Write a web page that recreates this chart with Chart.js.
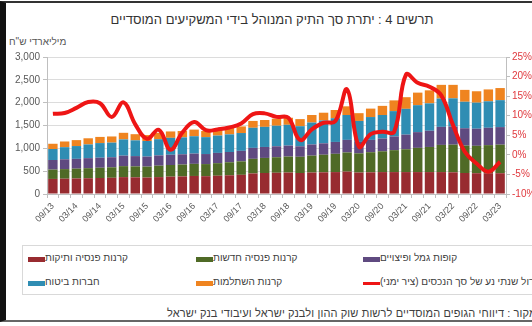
<!DOCTYPE html>
<html lang="he">
<head>
<meta charset="utf-8">
<script src="https://cdn.jsdelivr.net/npm/chart.js@4"></script>
<style>
  html, body { margin: 0; padding: 0; background: #fff; }
  body { width: 532px; height: 326px; position: relative; overflow: hidden;
    font-family: "Liberation Sans", Arial, sans-serif; color: #404040; }
  #frame { position: absolute; left: 0; top: 1px; width: 540px; height: 321px;
    border-left: 6px solid #111; border-top: 2px solid #333; border-bottom: 2px solid #666; box-sizing: border-box; }
  #title { position: absolute; top: 12px; left: 0; width: 544px; text-align: center;
    font-size: 13px; color: #333; direction: rtl; }
  #unit { position: absolute; top: 36px; left: 9px; font-size: 10px; color: #555;
    direction: ltr; white-space: nowrap; }
  #chart { position: absolute; left: 0; top: 0; }
  #legend { position: absolute; left: 22px; top: 245px; width: 530px; height: 50px;
    border: 1px solid #d9d9d9; box-sizing: border-box; }
  .item { position: absolute; font-size: 10px; white-space: nowrap; direction: rtl; color: #404040; }
  .sw { position: absolute; width: 17px; height: 5px; }
  #source { position: absolute; top: 307px; left: 167px; font-size: 11px; letter-spacing: 0.12px;
    white-space: nowrap; direction: rtl; color: #404040; }
</style>
</head>
<body>
<div id="frame"></div>
<div id="title">תרשים 4 : יתרת סך התיק המנוהל בידי המשקיעים המוסדיים</div>
<div id="unit">מיליארדי ש"ח</div>
<canvas id="chart" width="532" height="240"></canvas>
<div id="legend"></div>
<div id="source">מקור : דיווחי הגופים המוסדיים לרשות שוק ההון ולבנק ישראל ועיבודי בנק ישראל</div>
<script>
// ---------- data ----------
const quarters = [
  "09/13", "12/13", "03/14", "06/14", "09/14", "12/14", "03/15", "06/15", "09/15", "12/15",
  "03/16", "06/16", "09/16", "12/16", "03/17", "06/17", "09/17", "12/17", "03/18", "06/18",
  "09/18", "12/18", "03/19", "06/19", "09/19", "12/19", "03/20", "06/20", "09/20", "12/20",
  "03/21", "06/21", "09/21", "12/21", "03/22", "06/22", "09/22", "12/22", "03/23",
];
// billions NIS
const oldPension = [330, 335, 340, 345, 350, 355, 370, 365, 360, 370, 380, 385, 395, 390, 400, 410, 420, 450, 460, 465,
  470, 460, 470, 475, 480, 490, 470, 475, 480, 480, 480, 480, 480, 480, 475, 460, 455, 455, 455];
const newPension = [205, 210, 215, 220, 225, 230, 240, 240, 240, 250, 255, 260, 265, 265, 275, 285, 295, 320, 330, 340,
  350, 355, 370, 385, 400, 420, 420, 440, 455, 480, 500, 530, 550, 595, 605, 600, 600, 615, 625];
const provident = [210, 215, 215, 220, 220, 220, 230, 225, 220, 225, 225, 225, 225, 220, 225, 225, 230, 240, 240, 240,
  240, 230, 245, 250, 260, 275, 250, 270, 280, 300, 320, 345, 355, 395, 400, 380, 375, 380, 385];
const insurance = [240, 265, 280, 300, 320, 320, 355, 345, 340, 355, 370, 370, 380, 370, 380, 385, 390, 440, 440, 450,
  455, 440, 480, 500, 520, 545, 460, 500, 515, 555, 565, 590, 600, 620, 615, 580, 570, 580, 590];
const studyFunds = [115, 125, 130, 135, 135, 135, 145, 135, 130, 140, 140, 140, 145, 135, 140, 145, 145, 150, 150, 155,
  155, 155, 165, 170, 180, 190, 170, 185, 200, 235, 255, 275, 285, 300, 295, 260, 250, 260, 265];
// % (right axis)
const annualChange = [10.5, 10.7, 12.0, 13.5, 13.2, 9.7, 13.4, 7.8, 4.1, 6.4, 1.3, 5.7, 8.4, 6.3, 6.5, 7.0, 8.0, 10.4, 10.6, 9.7,
  9.5, 3.8, 6.5, 8.2, 8.6, 16.7, 2.1, 5.3, 5.9, 5.9, 20.5, 18.4, 17.4, 15.2, 7.6, 0.8, -2.2, -4.3, -1.8];

const leftTicks = [0, 500, 1000, 1500, 2000, 2500, 3000];
const rightTicks = [-10, -5, 0, 5, 10, 15, 20, 25];

const SERIES = [
  { label: "קרנות פנסיה ותיקות", data: oldPension, color: "#982b30" },
  { label: "קרנות פנסיה חדשות", data: newPension, color: "#4f6a26" },
  { label: "קופות גמל ופיצויים", data: provident, color: "#5f4a80" },
  { label: "חברות ביטוח", data: insurance, color: "#2f8db3" },
  { label: "קרנות השתלמות", data: studyFunds, color: "#ef8420" },
];
const LINE = { label: "שיעור גידול שנתי נע של סך הנכסים (ציר ימני)", data: annualChange, color: "#ee1515" };

const GRID = "#dcdcdc";
const AXIS = "#bfbfbf";
const TXT = "#595959";
const RED_TXT = "#e0393e";

// ---------- chart ----------
const datasets = SERIES.map((s) => ({
  type: "bar", label: s.label, data: s.data, backgroundColor: s.color,
  yAxisID: "y", order: 1, barPercentage: 0.8, categoryPercentage: 1,
}));
datasets.push({
  type: "line", label: LINE.label, data: LINE.data, borderColor: LINE.color,
  backgroundColor: LINE.color, borderWidth: 4, pointRadius: 0, tension: 0.4,
  yAxisID: "y2", order: 0,
});

new Chart(document.getElementById("chart"), {
  data: { labels: quarters, datasets },
  options: {
    responsive: false,
    animation: false,
    layout: { padding: { left: 6, top: 57, right: 0, bottom: 0 } },
    plugins: { legend: { display: false }, tooltip: { enabled: false } },
    scales: {
      x: {
        stacked: true,
        afterFit: (s) => { s.height = 46; },
        grid: { display: true, drawOnChartArea: false, color: AXIS, tickLength: 4 },
        border: { color: AXIS },
        ticks: {
          autoSkip: false, maxRotation: 45, minRotation: 45, color: TXT,
          font: { size: 9, family: "Liberation Sans" },
          callback: (v, i) => (i % 2 === 0 ? quarters[i] : ""),
        },
      },
      y: {
        stacked: true, position: "left", min: 0, max: 3000,
        afterFit: (s) => { s.width = 41; },
        afterBuildTicks: (s) => { s.ticks = leftTicks.map((v) => ({ value: v })); },
        grid: { color: GRID, tickLength: 4, tickColor: AXIS },
        border: { color: AXIS },
        ticks: { color: TXT, font: { size: 10, family: "Liberation Sans" }, padding: 3,
          callback: (v) => v.toLocaleString("en-US") },
      },
      y2: {
        position: "right", min: -10, max: 25,
        afterFit: (s) => { s.width = 26; },
        afterBuildTicks: (s) => { s.ticks = rightTicks.map((v) => ({ value: v })); },
        grid: { drawOnChartArea: false, tickLength: 4, color: AXIS },
        border: { color: AXIS },
        ticks: { color: RED_TXT, font: { size: 10, family: "Liberation Sans" }, padding: 2,
          callback: (v) => v + "%" },
      },
    },
  },
});

// ---------- legend ----------
const legend = document.getElementById("legend");
const cols = [5, 173, 340];
const rows = [6, 30];
const entries = [SERIES[0], SERIES[1], SERIES[2], SERIES[3], SERIES[4], LINE];
entries.forEach((e, i) => {
  const x = cols[i % 3], y = rows[Math.floor(i / 3)];
  const sw = document.createElement("div");
  sw.className = "sw";
  sw.style.left = x + "px";
  sw.style.top = (y + 5) + "px";
  sw.style.background = e.color;
  if (e === LINE) { sw.style.height = "3px"; sw.style.top = (y + 6) + "px"; }
  legend.appendChild(sw);
  const t = document.createElement("div");
  t.className = "item";
  t.style.left = (x + 17) + "px";
  t.style.top = y + "px";
  t.textContent = e.label;
  legend.appendChild(t);
});
</script>
</body>
</html>
